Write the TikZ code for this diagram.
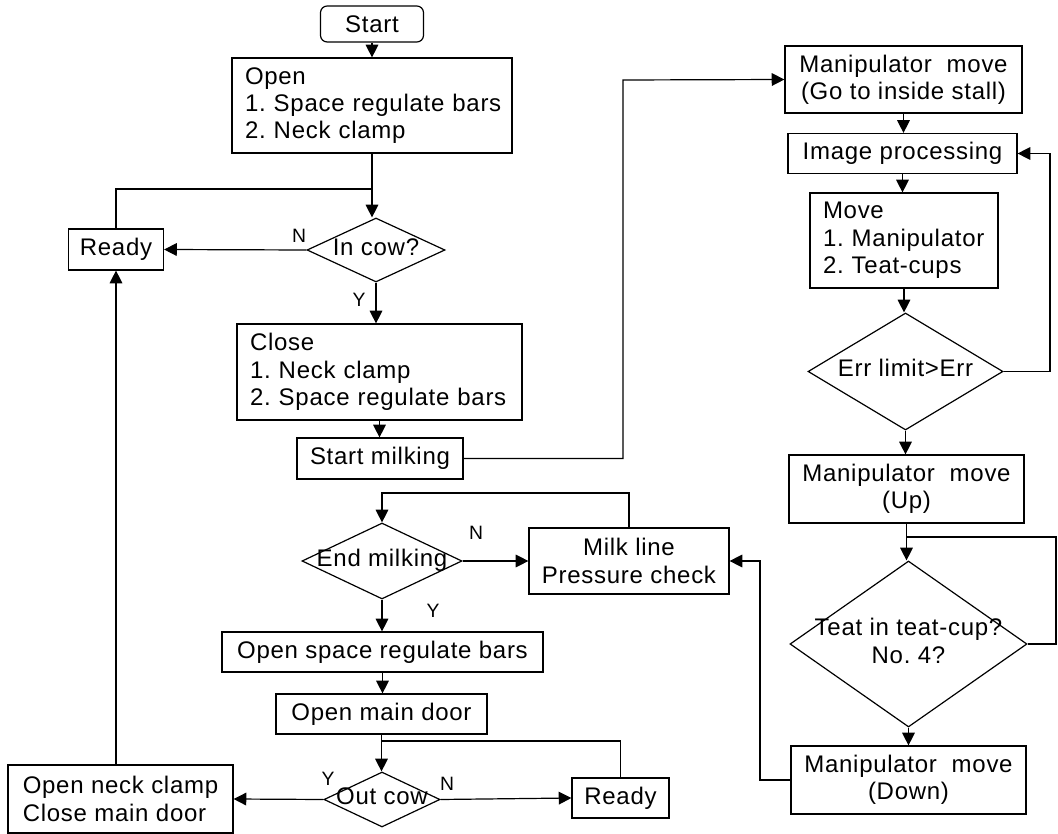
\documentclass[tikz,border=0pt]{standalone}
\usepackage{fontspec}
\setmainfont[LetterSpace=3]{Liberation Sans}
\usetikzlibrary{shapes.geometric,arrows.meta}
\newcommand\dtext[1]{\makebox[0pt]{\begin{tabular}{@{}c@{}}#1\end{tabular}}}
\hyphenpenalty=10000
\exhyphenpenalty=10000
\frenchspacing
\begin{document}
\begin{tikzpicture}[x=0.75pt,y=-0.75pt,line width=0.9pt,
  font=\fontsize{18pt}{20.5pt}\selectfont,
  arr/.style={-{Triangle[length=9.5pt,width=9.5pt]}},
  cbox/.style 2 args={draw, align=center, minimum width=#1*0.75pt, minimum height=#2*0.75pt, inner sep=0pt},
  lbox/.style n args={3}{draw, align=left, text width=#3, inner xsep=9.75pt, inner ysep=0pt, minimum height=#2*0.75pt},
  dia/.style 2 args={draw, diamond, minimum width=#1*0.75pt, minimum height=#2*0.75pt, inner sep=0pt},
  lab/.style={font=\fontsize{14.5pt}{16pt}\selectfont, inner sep=0pt}
]
\fill[white] (0,0) rectangle (1058,834);
\useasboundingbox (0,0) rectangle (1058,834);

% left / middle column
\node[cbox={103}{36}, rounded corners=5pt] (start) at (372,24) {Start};
\node[lbox={280}{95}{190.5pt}] (open) at (372,105.5) {\mbox{Open}\\\mbox{1. Space regulate bars}\\\mbox{2. Neck clamp}};
\node[dia={138}{64}] (incow) at (376,250) {\dtext{In cow?}};
\node[cbox={95}{41}] (readyA) at (116,249.5) {Ready};
\node[lbox={285}{96}{194.25pt}] (close) at (379.5,372) {\mbox{Close}\\\mbox{1. Neck clamp}\\\mbox{2. Space regulate bars}};
\node[cbox={166}{41}] (sm) at (380,458.5) {Start milking};
\node[dia={160}{76}] (endm) at (382,561) {\dtext{End milking}};
\node[cbox={200}{66}] (milk) at (629,561) {Milk line\\Pressure check};
\node[cbox={321}{40}] (osb) at (382.5,652) {Open space regulate bars};
\node[cbox={211}{40}] (omd) at (381.5,714) {Open main door};
\node[dia={116}{55}] (outcow) at (382,799.5) {\dtext{Out cow}};
\node[cbox={225}{68}, align=left] (neck) at (120.5,799) {Open neck clamp\\Close main door};
\node[cbox={97}{40}] (readyB) at (620.5,798) {Ready};

% right column
\node[cbox={237}{67}] (m1) at (903.5,79.5) {Manipulator\ \ move\\(Go to inside stall)};
\node[cbox={229}{40}] (ip) at (902.5,153.5) {Image processing};
\node[lbox={188}{95}{121.5pt}] (move) at (904,240.5) {\mbox{Move}\\\mbox{1. Manipulator}\\\mbox{2. Teat-cups}};
\node[dia={195}{117}] (err) at (905.5,371.5) {\dtext{Err limit>Err}};
\node[cbox={235}{68}] (up) at (906.5,489) {Manipulator\ \ move\\(Up)};
\node[dia={237}{166}] (teat) at (908.5,644) {\dtext{Teat in teat-cup?\\No. 4?}};
\node[cbox={235}{68}] (down) at (908.5,780) {Manipulator\ \ move\\(Down)};

% labels
\node[lab] (lN1) at (299,236) {N};
\node[lab] (lY1) at (359,300) {Y};
\node[lab] (lN2) at (476,533) {N};
\node[lab] (lY2) at (433,611) {Y};
\node[lab] (lY3) at (328,779) {Y};
\node[lab] (lN3) at (447,784) {N};

% helper coordinates
\coordinate (jA) at (372,189);
\coordinate (c1) at (623,80);
\coordinate (c2) at (1050,153.5);
\coordinate (c3) at (1056,537);
\coordinate (j3) at (906.5,537);
\coordinate (c5) at (760,561);
\coordinate (c7) at (382,493);
\coordinate (j4) at (382,741);

% connectors
\draw[arr] (start.south) -- (start.south |- open.north);
\draw[arr] (open.south) -- (open.south |- incow.north);
\draw (readyA.north) |- (jA);
\draw[arr] (incow.west) -- (readyA.east);
\draw[arr] (incow.south) -- (incow.south |- close.north);
\draw[arr] (close.south) -- (close.south |- sm.north);
\draw[arr] (sm.east) -| (c1) -- (m1.west);
\draw[arr] (m1.south) -- (m1.south |- ip.north);
\draw[arr] (ip.south) -- (ip.south |- move.north);
\draw[arr] (move.south) -- (move.south |- err.north);
\draw[arr] (err.east) -| (c2) -- (ip.east);
\draw[arr] (err.south) -- (err.south |- up.north);
\draw[arr] (up.south) -- (up.south |- teat.north);
\draw (teat.east) -| (c3) -- (j3);
\draw[arr] (teat.south) -- (teat.south |- down.north);
\draw[arr] (down.west) -| (c5) -- (milk.east);
\draw[arr] (milk.north) |- (c7) -- (endm.north);
\draw[arr] (endm.east) -- (milk.west);
\draw[arr] (endm.south) -- (endm.south |- osb.north);
\draw[arr] (osb.south) -- (osb.south |- omd.north);
\draw[arr] (omd.south) -- (omd.south |- outcow.north);
\draw (readyB.north) |- (j4);
\draw[arr] (outcow.west) -- (neck.east);
\draw[arr] (outcow.east) -- (readyB.west);
\draw[arr] (readyA.south |- neck.north) -- (readyA.south);
\end{tikzpicture}
\end{document}
